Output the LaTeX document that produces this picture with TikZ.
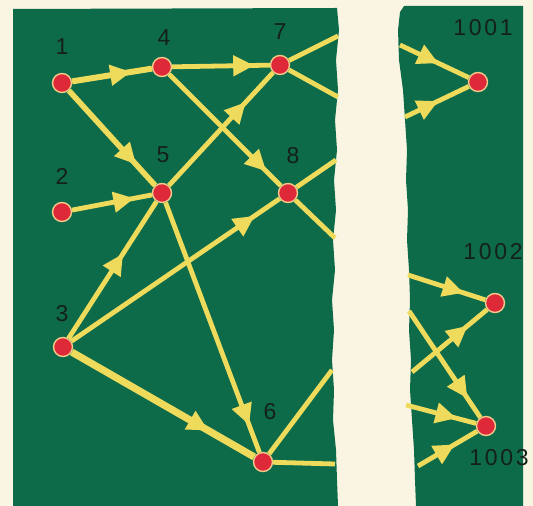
\documentclass[tikz,border=0pt]{standalone}
\usepackage{fontspec}
\setmainfont{Liberation Sans}
\newfontfamily\tagfont[LetterSpace=12]{Liberation Sans}
\usetikzlibrary{arrows.meta,positioning,decorations.markings}
\definecolor{paper}{HTML}{FAF5E2}
\definecolor{board}{HTML}{0E6B4A}
\definecolor{wire}{HTML}{EEDB5C}
\definecolor{dot}{HTML}{DE2A38}
\definecolor{rim}{HTML}{F3C98A}
\definecolor{ink}{HTML}{14201A}
\tikzset{
  city/.style={circle, fill=dot, draw=rim, line width=0.7pt, inner sep=0pt, minimum size=9.5pt},
  tag/.style={font=\tagfont\fontsize{11.5}{13}\selectfont, text=ink, inner sep=1pt},
  road/.style={draw=wire, line width=2.4pt},
  flow/.style={road, postaction={decorate, decoration={markings, mark=at position #1 with {\arrow{Triangle[length=10.5pt, width=10pt, color=wire]}}}}}
}

\begin{document}
\begin{tikzpicture}[x=0.5pt, y=-0.5pt]
  \useasboundingbox (0,0) rectangle (533,506);
  \fill[paper] (0,0) rectangle (533,506);

  \fill[board] (13,9) -- (337,8) -- (339,30) -- (336,60) -- (338,90) -- (335,120) -- (337,150) -- (334,180) -- (336,210) -- (333,240) -- (335,270) -- (332,300) -- (334,330) -- (332,360) -- (334,390) -- (333,420) -- (336,450) -- (337,480) -- (338,506) -- (13,506) -- cycle;
  \fill[board] (404,6) -- (523,6) -- (523,506) -- (416,506) -- (415,480) -- (414,450) -- (412,420) -- (410,390) -- (411,360) -- (409,330) -- (410,300) -- (409,270) -- (407,240) -- (408,210) -- (406,180) -- (407,150) -- (405,120) -- (403,90) -- (399,60) -- (398,30) -- (400,12) -- cycle;

  \node[city] (n1) at (62,83) {};
  \node[city] (n4) at (162,67) {};
  \node[city] (n7) at (280,65) {};
  \node[city] (n2) at (62,212) {};
  \node[city] (n5) at (162,193) {};
  \node[city] (n8) at (288,193) {};
  \node[city] (n3) at (63,347) {};
  \node[city] (n6) at (263,462) {};
  \node[city] (n1001) at (478,82) {};
  \node[city] (n1002) at (495,303) {};
  \node[city] (n1003) at (486,426) {};

  \node[tag] (t1) at (62,47) {1};
  \node[tag] (t4) at (164,38) {4};
  \node[tag] (t7) at (280,32) {7};
  \node[tag] (t2) at (62,176) {2};
  \node[tag] (t5) at (163,155) {5};
  \node[tag] (t8) at (293,156) {8};
  \node[tag] (t3) at (62,314) {3};
  \node[tag] (t6) at (270,412) {6};
  \node[tag] (t1001) at (483,28) {1001};
  \node[tag] (t1002) at (493,252) {1002};
  \node[tag] (t1003) at (499,458) {1003};

  \coordinate (x7a) at (338,36);
  \coordinate (x7b) at (338,97);
  \coordinate (x8a) at (336,160);
  \coordinate (x8b) at (335,238);
  \coordinate (x6a) at (332,370);
  \coordinate (x6b) at (335,464);
  \coordinate (e1) at (400,45);
  \coordinate (e2) at (405,117);
  \coordinate (e3) at (408,275);
  \coordinate (e4) at (412,372);
  \coordinate (e5) at (409,311);
  \coordinate (e6) at (406,405);
  \coordinate (e7) at (418,466);

  \draw[flow=0.74, line width=3pt] (n1) -- (n4);
  \draw[flow=0.84] (n4) -- (n7);
  \draw[flow=0.78, line width=2.8pt] (n1) -- (n5);
  \draw[flow=0.78] (n2) -- (n5);
  \draw[flow=0.74] (n5) -- (n7);
  \draw[flow=0.87] (n4) -- (n8);
  \draw[flow=0.62] (n3) -- (n5);
  \draw[flow=0.88] (n3) -- (n8);
  \draw[flow=0.89] (n5) -- (n6);
  \draw[flow=0.75, line width=3.6pt] (n3) -- (n6);
  \draw[road] (n7) -- (x7a);
  \draw[road] (n7) -- (x7b);
  \draw[road] (n8) -- (x8a);
  \draw[road] (n8) -- (x8b);
  \draw[road] (n6) -- (x6a);
  \draw[road] (n6) -- (x6b);

  \draw[flow=0.56] (e1) -- (n1001);
  \draw[flow=0.52] (e2) -- (n1001);
  \draw[flow=0.72] (e3) -- (n1002);
  \draw[flow=0.74] (e4) -- (n1002);
  \draw[flow=0.82] (e5) -- (n1003);
  \draw[flow=0.72] (e6) -- (n1003);
  \draw[flow=0.62] (e7) -- (n1003);
\end{tikzpicture}
\end{document}
